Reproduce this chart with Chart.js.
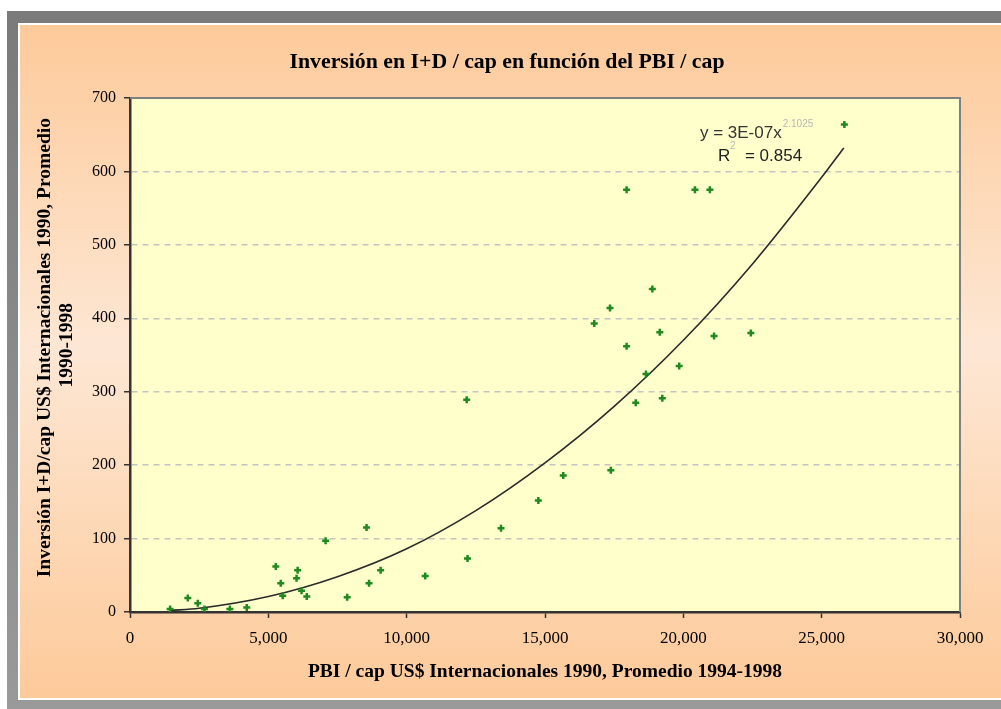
<!DOCTYPE html>
<html>
<head>
<meta charset="utf-8">
<script src="https://cdn.jsdelivr.net/npm/chart.js@4"></script>
<style>
  body { margin: 0; background: #fff; width: 1001px; height: 709px; overflow: hidden; position: relative; }
  .frame { position: absolute; left: 7px; top: 11px; width: 1010px; height: 710px;
           background: linear-gradient(#7a7a7a, #9a9a9a); }
  .edge { position: absolute; left: 18px; top: 23px; width: 1000px; height: 677px; background: #fff; }
  .box { position: absolute; left: 20px; top: 25px; width: 981px; height: 673px;
         background: linear-gradient(to bottom, #fdca9a 0%, #fde7d4 48%, #fdca9a 100%); }
</style>
</head>
<body>
<div class="frame"></div>
<div class="edge"></div>
<div class="box"><canvas id="chart" width="981" height="673"></canvas></div>
<script>
// PBI / cap (x) and I+D / cap (y)
const pbi = [1450, 2090, 2450, 2690, 3610, 4220, 5270, 5450, 5520, 6060, 6020, 6200, 6390,
             7070, 7850, 8550, 8640, 9060, 10670, 12170, 12200, 13410, 14760, 15660, 16780,
             17350, 17380, 17950, 17950, 18280, 18650, 18880, 19150, 19240, 19850, 20420,
             20960, 21110, 22440, 25820];
const inversion = [4, 19, 12, 4, 4, 6, 62, 39, 22, 57, 46, 29, 21,
                   97, 20, 115, 39, 57, 49, 289, 73, 114, 152, 186, 393,
                   414, 193, 575, 362, 285, 324, 440, 381, 291, 335, 575,
                   575, 376, 380, 664];

// potential trend line (y = 3E-07x^2.1025)
const trendX = [1450, 2500, 5000, 7500, 10000, 12500, 15000, 17500, 20000, 22500, 25000, 25800];
const trendY = [2, 5, 21, 48, 86, 138, 203, 280, 370, 474, 592, 632];

const xTicks = [0, 5000, 10000, 15000, 20000, 25000, 30000];
const yTicks = [0, 100, 200, 300, 400, 500, 600, 700];

const serif = "'Liberation Serif', 'Times New Roman', serif";
const sans = "'Liberation Sans', Arial, sans-serif";

// plot area background and gray border on top / right
const plotArea = {
    id: 'plotArea',
    beforeDraw(chart) {
        const { ctx, chartArea: a } = chart;
        ctx.save();
        ctx.fillStyle = '#ffffcc';
        ctx.fillRect(a.left, a.top, a.right - a.left, a.bottom - a.top);
        ctx.restore();
    },
    afterDatasetsDraw(chart) {
        const { ctx, chartArea: a } = chart;
        ctx.save();
        ctx.strokeStyle = '#808080';
        ctx.lineWidth = 2;
        ctx.beginPath();
        ctx.moveTo(a.left, a.top);
        ctx.lineTo(a.right, a.top);
        ctx.lineTo(a.right, a.bottom);
        ctx.stroke();
        ctx.restore();
    }
};

// equation and R² text of the trend line
const equation = {
    id: 'equation',
    afterDraw(chart) {
        const { ctx, scales: { x, y } } = chart;
        const px = x.getPixelForValue(20600);
        const py = y.getPixelForValue(652);
        ctx.save();
        ctx.textBaseline = 'middle';
        ctx.font = '17px ' + sans;
        ctx.fillStyle = '#333';
        ctx.fillText('y = 3E-07x', px, py);
        const w = ctx.measureText('y = 3E-07x').width;
        ctx.font = '10px ' + sans;
        ctx.fillStyle = '#b8b8b0';
        ctx.fillText('2.1025', px + w + 1, py - 9);

        const rx = x.getPixelForValue(21250);
        const ry = y.getPixelForValue(620);
        ctx.font = '17px ' + sans;
        ctx.fillStyle = '#222';
        ctx.fillText('R', rx, ry);
        ctx.fillText('= 0.854', rx + 27, ry);
        ctx.font = '10px ' + sans;
        ctx.fillStyle = '#b8b8b0';
        ctx.fillText('2', rx + 12, ry - 10);
        ctx.restore();
    }
};

const ctx = document.getElementById('chart').getContext('2d');

new Chart(ctx, {
    type: 'scatter',
    data: {
        datasets: [
            {
                label: 'Países',
                data: pbi.map((v, i) => ({ x: v, y: inversion[i] })),
                pointStyle: 'cross',
                pointRadius: 3.5,
                borderWidth: 2.5,
                borderColor: '#1f8a1f',
                backgroundColor: '#1f8a1f',
                order: 1
            },
            {
                label: 'Tendencia',
                type: 'line',
                data: trendX.map((v, i) => ({ x: v, y: trendY[i] })),
                borderColor: '#2a2a2a',
                borderWidth: 1.6,
                pointRadius: 0,
                fill: false,
                cubicInterpolationMode: 'monotone',
                order: 2
            }
        ]
    },
    options: {
        responsive: false,
        animation: false,
        // left padding keeps the title centred where the original has it
        layout: { padding: { left: 34, right: 41, top: 0, bottom: 0 } },
        plugins: {
            legend: { display: false },
            tooltip: { enabled: false },
            title: {
                display: true,
                text: 'Inversión en I+D / cap en función del PBI / cap',
                color: '#000',
                font: { family: serif, size: 21.8, weight: 'bold', lineHeight: 1.2 },
                padding: { top: 24, bottom: 22.8 }
            }
        },
        scales: {
            x: {
                type: 'linear',
                min: 0,
                max: 30000,
                afterBuildTicks: s => { s.ticks = xTicks.map(v => ({ value: v })); },
                afterFit: s => { s.height = 86; },
                ticks: {
                    color: '#000',
                    font: { family: serif, size: 17 },
                    padding: 10,
                    maxRotation: 0,
                    callback: v => v.toLocaleString('en-US')
                },
                grid: {
                    drawOnChartArea: false,
                    tickLength: 6,
                    tickColor: '#333',
                    tickWidth: 1.5
                },
                border: { color: '#333', width: 2.5 },
                title: {
                    display: true,
                    text: 'PBI / cap US$ Internacionales 1990, Promedio 1994-1998',
                    color: '#000',
                    font: { family: serif, size: 19.5, weight: 'bold', lineHeight: 1.2 },
                    padding: { top: 0, bottom: 14 }
                }
            },
            y: {
                type: 'linear',
                min: 0,
                max: 700,
                afterBuildTicks: s => { s.ticks = yTicks.map(v => ({ value: v })); },
                afterFit: s => { s.width = 76; },
                ticks: {
                    color: '#000',
                    font: { family: serif, size: 16 },
                    padding: 8
                },
                grid: {
                    color: '#c4c4c0',
                    lineWidth: 1.5,
                    tickLength: 6,
                    tickColor: '#333',
                    tickWidth: 1.5
                },
                border: { color: '#333', width: 2.5, dash: [6, 5] },
                title: {
                    display: true,
                    text: ['   Inversión I+D/cap US$ Internacionales 1990, Promedio', '    1990-1998'],
                    color: '#000',
                    font: { family: serif, size: 19.5, weight: 'bold', lineHeight: 1.12 },
                    padding: { top: -20, bottom: 0 }
                }
            }
        }
    },
    plugins: [plotArea, equation]
});
</script>
</body>
</html>
